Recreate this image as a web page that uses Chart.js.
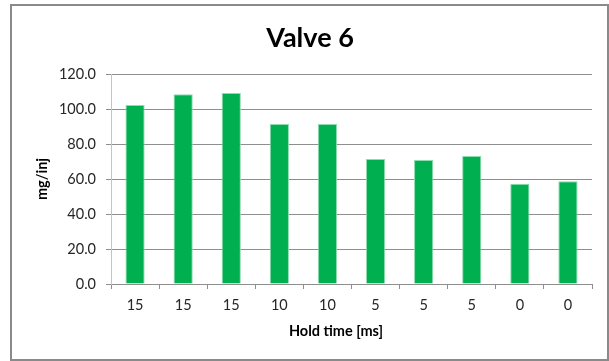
<!DOCTYPE html>
<html>
<head>
<meta charset="utf-8">
<script src="https://cdn.jsdelivr.net/npm/chart.js@4/dist/chart.umd.min.js"></script>
<style>
  html, body { margin: 0; padding: 0; background: #ffffff; }
  #wrap { position: relative; width: 609px; height: 361px; }
</style>
</head>
<body>
<div id="wrap"><canvas id="chart" width="609" height="361"></canvas></div>
<script>
// Hold time per measurement and the delivered mass per injection
const holdTimes = ['15', '15', '15', '10', '10', '5', '5', '5', '0', '0'];
const massPerInjection = [102.3, 108.4, 109.1, 91.4, 91.4, 71.4, 70.9, 73.1, 57.3, 58.7];
const yTicks = [0, 20, 40, 60, 80, 100, 120];

const chartTitle = 'Valve 6';
const xTitle = 'Hold time [ms]';
const yTitle = 'mg/inj';

const FONT = 'Lato, "Liberation Sans", sans-serif';

// Frame around the whole chart plus the headline and x-axis caption
const framePlugin = {
  id: 'frame',
  beforeDraw(chart) {
    const ctx = chart.ctx;
    ctx.save();
    ctx.fillStyle = '#ffffff';
    ctx.fillRect(0, 0, chart.width, chart.height);
    ctx.strokeStyle = '#8a8a8a';
    ctx.lineWidth = 2;
    ctx.strokeRect(11, 5, 597, 355);
    ctx.restore();
  },
  afterDraw(chart) {
    const ctx = chart.ctx;
    ctx.save();
    ctx.fillStyle = '#000000';
    ctx.textAlign = 'center';
    ctx.textBaseline = 'middle';
    ctx.font = 'bold 27px ' + FONT;
    ctx.fillText(chartTitle, 310, 38);
    ctx.font = 'bold 14.5px ' + FONT;
    ctx.fillText(xTitle, 336, 331);
    ctx.restore();
  }
};

new Chart(document.getElementById('chart'), {
  type: 'bar',
  data: {
    labels: holdTimes,
    datasets: [{
      data: massPerInjection,
      backgroundColor: '#00b050',
      borderColor: '#8fdcb0',
      borderWidth: 1,
      barPercentage: 0.4,
      categoryPercentage: 1.0
    }]
  },
  options: {
    responsive: false,
    animation: false,
    devicePixelRatio: 1,
    layout: { padding: { left: 12, top: 74, right: 17, bottom: 0 } },
    plugins: {
      legend: { display: false },
      title: { display: false },
      tooltip: { enabled: false }
    },
    scales: {
      x: {
        grid: {
          offset: true,
          drawOnChartArea: false,
          drawTicks: true,
          tickLength: 5,
          color: '#8e8e8e'
        },
        border: { display: true, color: '#8e8e8e', width: 1 },
        ticks: {
          color: '#262626',
          padding: 8,
          font: { family: FONT, size: 14.5 },
          maxRotation: 0
        },
        afterFit(scale) { scale.height = 77; }
      },
      y: {
        min: 0,
        max: 120,
        afterBuildTicks(scale) { scale.ticks = yTicks.map(v => ({ value: v })); },
        grid: {
          color: '#8e8e8e',
          drawTicks: true,
          tickLength: 5
        },
        border: { display: true, color: '#c4c4c4', width: 1 },
        ticks: {
          color: '#262626',
          padding: 10,
          font: { family: FONT, size: 14.5 },
          callback: (v) => Number(v).toFixed(1)
        },
        title: {
          display: true,
          text: yTitle,
          color: '#000000',
          font: { family: FONT, size: 14.5, weight: 'bold' },
          padding: { top: 22, bottom: 0 }
        },
        afterFit(scale) { scale.width = 99; }
      }
    }
  },
  plugins: [framePlugin]
});
</script>
</body>
</html>
